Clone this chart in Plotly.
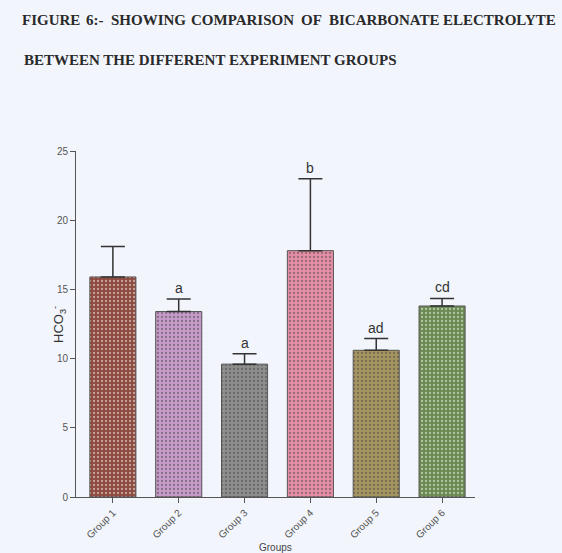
import plotly.graph_objects as go

# Bicarbonate (HCO3-) levels per experiment group: mean and upper SEM
groups = ["Group 1", "Group 2", "Group 3", "Group 4", "Group 5", "Group 6"]
means = [15.9, 13.4, 9.6, 17.8, 10.6, 13.8]
errors = [2.2, 0.9, 0.75, 5.2, 0.85, 0.55]
letters = ["", "a", "a", "b", "ad", "cd"]
bar_colors = ["#8e4a3f", "#c69bc9", "#8d8d8d", "#e58ea6", "#a69560", "#6a8a52"]
y_ticks = [0, 5, 10, 15, 20, 25]

title_line1 = ["FIGURE", "6:-", "SHOWING", "COMPARISON", "OF", "BICARBONATE", "ELECTROLYTE"]
title_line1_px = [20, 84, 109, 189, 299, 327, 441]   # justified word starts
title_line2 = "BETWEEN THE DIFFERENT EXPERIMENT GROUPS"

W, H = 562, 553
L, R, T, B = 76, 87, 151, 56
PW, PH = W - L - R, H - T - B
bg = "#f2f5fc"


def px_x(px):
    return (px - L) / PW


def px_y(py):
    return (H - B - py) / PH


fig = go.Figure()
fig.add_trace(go.Bar(
    x=groups,
    y=means,
    width=0.7,
    marker=dict(
        color=bar_colors,
        line=dict(color="#555555", width=1),
        pattern=dict(shape=".", size=4, solidity=0.25,
                     fgcolor="rgba(255,255,255,0.4)", fillmode="overlay"),
    ),
    error_y=dict(type="data", symmetric=False, array=errors,
                 arrayminus=[0] * len(errors), color="#333333",
                 thickness=1.5, width=12),
    showlegend=False,
))

# Significance letters above the error bars
for g, m, e, lt in zip(groups, means, errors, letters):
    if lt:
        fig.add_annotation(x=g, y=m + e, text=lt, showarrow=False,
                           yanchor="bottom", yshift=1,
                           font=dict(family="Liberation Sans", size=14, color="#333333"))

# Title: first line justified across the width, second line left-aligned
title_font = dict(family="Liberation Serif", size=15, color="#2a2a2a")
for word, wx in zip(title_line1, title_line1_px):
    fig.add_annotation(x=px_x(wx), y=px_y(20), xref="paper", yref="paper",
                       xanchor="left", yanchor="middle", showarrow=False,
                       text=f"<b>{word}</b>", font=title_font)
fig.add_annotation(x=px_x(22), y=px_y(60), xref="paper", yref="paper",
                   xanchor="left", yanchor="middle", showarrow=False,
                   text=f"<b>{title_line2}</b>", font=title_font)

# Axis titles
fig.add_annotation(x=px_x(48), y=px_y(325), xref="paper", yref="paper",
                   showarrow=False, textangle=-90, text="HCO<sub>3</sub><sup>-</sup>",
                   font=dict(family="Liberation Sans", size=13, color="#333333"))
fig.add_annotation(x=px_x(275), y=px_y(547), xref="paper", yref="paper",
                   showarrow=False, yanchor="middle", text="Groups",
                   font=dict(family="Liberation Sans", size=10, color="#444444"))

fig.update_layout(
    width=W, height=H,
    margin=dict(l=L, r=R, t=T, b=B),
    paper_bgcolor=bg, plot_bgcolor=bg,
    bargap=0.3,
)
fig.update_xaxes(
    range=[-0.56, 5.5], showgrid=False, showline=True, linecolor="#555555",
    linewidth=1, ticks="outside", ticklen=5, tickcolor="#555555",
    tickangle=-45, tickfont=dict(family="Liberation Sans", size=10, color="#555555"),
)
fig.update_yaxes(
    range=[0, 25], tickvals=y_ticks, showgrid=False, zeroline=False,
    showline=True, linecolor="#555555", linewidth=1, ticks="outside",
    ticklen=5, tickcolor="#555555",
    tickfont=dict(family="Liberation Sans", size=10, color="#555555"),
)

fig.write_html("out.html")
